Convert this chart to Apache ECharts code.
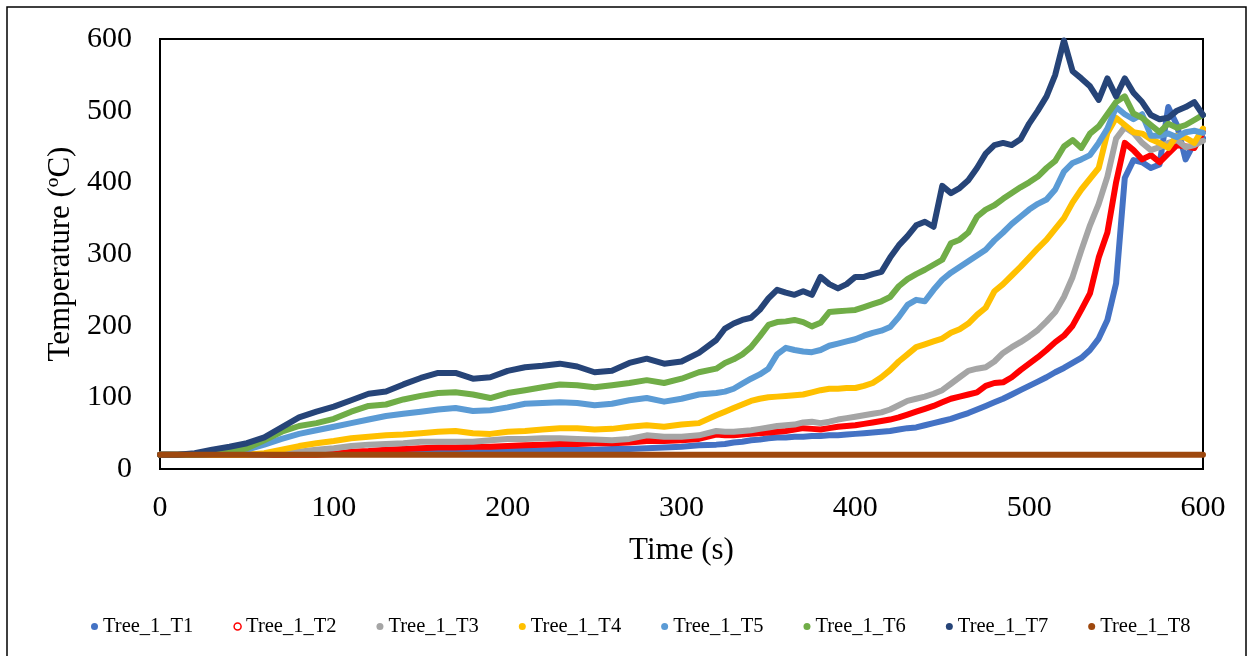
<!DOCTYPE html>
<html>
<head>
<meta charset="utf-8">
<script src="https://cdn.jsdelivr.net/npm/echarts@6/dist/echarts.min.js"></script>
<style>
html,body{margin:0;padding:0;background:#fff;}
#chart{width:1252px;height:656px;}
</style>
</head>
<body>
<div id="chart"></div>
<script>
var times = [0,10,20,30,40,50,60,70,80,90,100,110,120,130,140,150,160,170,180,190,200,210,220,230,240,250,260,270,280,290,300,310,320,
325,330,335,340,345,350,355,360,365,370,375,380,385,390,395,400,405,410,415,420,425,430,435,440,445,450,455,460,465,470,475,480,485,490,495,500,505,510,515,520,525,530,535,540,545,550,555,560,565,570,575,580,585,590,595,600];

var seriesNames = ['Tree_1_T1','Tree_1_T2','Tree_1_T3','Tree_1_T4','Tree_1_T5','Tree_1_T6','Tree_1_T7','Tree_1_T8'];

var t1 = [20,20,20,20,20,20,20,20,21,21,21,22,22,22,23,23,24,24,25,25,25,26,26,27,27,27,28,28,29,30,31,33,34,
35,37,38,40,41,43,44,44,45,45,46,46,47,47,48,49,50,51,52,53,55,57,58,61,64,67,70,74,78,83,88,93,98,104,110,116,122,128,135,141,148,155,166,182,208,259,406,431,428,420,425,505,480,432,455,462];

var t2 = [20,20,20,20,20,20,20,20,20,20,21,24,25,27,28,29,30,30,31,31,32,33,34,35,35,36,36,37,39,39,40,42,48,
47,47,48,49,50,51,52,53,55,57,56,55,57,59,60,61,63,65,67,69,72,76,80,84,88,93,98,101,104,107,116,120,121,128,138,147,156,166,177,186,200,222,245,295,330,400,455,445,432,438,428,440,452,450,448,470];

var t3 = [20,20,20,20,20,20,20,22,24,27,29,32,34,35,36,38,38,38,38,40,42,42,43,43,42,41,40,42,47,45,45,47,53,
52,52,53,54,56,58,60,61,62,65,66,64,66,69,71,73,75,77,79,83,89,95,98,101,105,110,119,128,137,140,142,150,162,170,177,185,194,206,219,240,268,305,340,370,408,461,477,469,455,445,449,455,459,449,452,458];

var t4 = [20,20,20,20,20,20,22,27,32,36,39,43,45,47,48,50,52,53,50,49,52,53,55,57,57,55,56,59,61,59,62,64,75,
80,85,90,95,98,100,101,102,103,104,107,110,112,112,113,113,116,120,128,138,150,160,170,174,178,182,190,195,203,215,225,248,258,270,282,295,308,320,335,350,372,390,405,420,469,490,480,470,468,460,455,448,465,462,455,475];

var t5 = [20,20,20,21,23,27,34,42,49,54,59,64,69,74,77,80,83,85,81,82,86,91,92,93,92,89,91,96,99,94,98,104,106,
108,112,119,126,132,140,160,169,166,164,163,166,172,175,178,181,186,190,193,198,212,229,236,234,250,264,274,282,290,298,306,319,330,342,352,362,370,376,390,415,427,432,438,455,475,505,495,488,495,465,465,468,463,470,472,469];

var t6 = [20,20,20,21,24,29,40,52,60,64,70,80,88,90,97,102,106,107,104,99,106,110,114,118,117,114,117,120,124,120,126,135,140,
148,153,160,170,185,201,205,206,208,205,199,204,219,220,221,222,226,230,234,240,255,265,272,278,285,292,315,320,330,352,362,368,377,385,393,400,408,420,430,450,459,448,468,478,495,512,520,496,490,480,470,482,476,480,487,494];

var t7 = [20,20,22,27,31,36,44,58,72,80,87,96,105,108,118,127,134,134,126,128,137,142,144,147,143,135,137,148,154,147,150,162,180,
196,203,208,211,222,238,250,246,243,248,243,268,258,252,258,268,268,272,275,295,312,325,340,345,338,395,385,392,403,420,440,452,455,452,460,482,500,520,550,598,555,545,534,515,545,520,545,525,512,494,488,490,500,505,512,494];

var t8 = [20,20,20,20,20,20,20,20,20,20,20,20,20,20,20,20,20,20,20,20,20,20,20,20,20,20,20,20,20,20,20,20,20,
20,20,20,20,20,20,20,20,20,20,20,20,20,20,20,20,20,20,20,20,20,20,20,20,20,20,20,20,20,20,20,20,20,20,20,20,20,20,20,20,20,20,20,20,20,20,20,20,20,20,20,20,20,20,20,20];

var xTicks = [0,100,200,300,400,500,600];
var yTicks = [0,100,200,300,400,500,600];

var colors = ['#4472C4','#FF0000','#A5A5A5','#FFC000','#5B9BD5','#70AD47','#264478','#9E480E'];
var values = [t1,t2,t3,t4,t5,t6,t7,t8];

var font = '"Liberation Serif","Times New Roman",serif';

function pairs(vals){
  var out = [];
  for (var i = 0; i < times.length; i++) out.push([times[i], vals[i]]);
  return out;
}

var series = seriesNames.map(function(name, i){
  return {
    name: name,
    type: 'line',
    data: pairs(values[i]),
    showSymbol: false,
    symbol: 'circle',
    smooth: false,
    color: colors[i],
    lineStyle: {width: 6, color: colors[i], cap: 'round', join: 'round'},
    itemStyle: {color: colors[i]},
    animation: false,
    z: 2 + i
  };
});

var legendData = seriesNames.map(function(name, i){
  var o = {name: name, icon: 'circle'};
  if (i === 1) o.itemStyle = {color: '#FFFFFF', borderColor: '#FF0000', borderWidth: 1.5};
  return o;
});

var chart = echarts.init(document.getElementById('chart'), null, {renderer: 'canvas'});
chart.setOption({
  backgroundColor: '#fff',
  animation: false,
  textStyle: {fontFamily: font, color: '#000'},
  graphic: [{
    type: 'rect',
    shape: {x: 7, y: 7, width: 1239, height: 700},
    style: {fill: 'none', stroke: '#000', lineWidth: 1.5},
    silent: true
  }],
  grid: {left: 160, right: 49, top: 39, bottom: 187, show: true, borderColor: '#000', borderWidth: 2, backgroundColor: 'transparent'},
  xAxis: {
    type: 'value', min: 0, max: 600, interval: 100,
    name: 'Time (s)', nameLocation: 'middle', nameGap: 66,
    nameTextStyle: {fontFamily: font, fontSize: 31, color: '#000'},
    axisLine: {show: true, lineStyle: {color: '#000', width: 2}},
    axisTick: {show: false},
    splitLine: {show: false},
    axisLabel: {fontFamily: font, fontSize: 30, color: '#000', margin: 24,
      formatter: function(v){ return xTicks.indexOf(v) >= 0 ? String(v) : ''; }}
  },
  yAxis: {
    type: 'value', min: 0, max: 600, interval: 100,
    name: 'Temperature (ºC)', nameLocation: 'middle', nameGap: 84,
    nameTextStyle: {fontFamily: font, fontSize: 31, color: '#000'},
    axisLine: {show: true, lineStyle: {color: '#000', width: 2}},
    axisTick: {show: false},
    splitLine: {show: false},
    axisLabel: {fontFamily: font, fontSize: 30, color: '#000', margin: 28,
      formatter: function(v){ return yTicks.indexOf(v) >= 0 ? String(v) : ''; }}
  },
  legend: {
    data: legendData,
    bottom: 14,
    left: 86,
    itemWidth: 7, itemHeight: 7, itemGap: 40,
    textStyle: {fontFamily: font, fontSize: 20.5, color: '#000'}
  },
  series: series
});
</script>
</body>
</html>
